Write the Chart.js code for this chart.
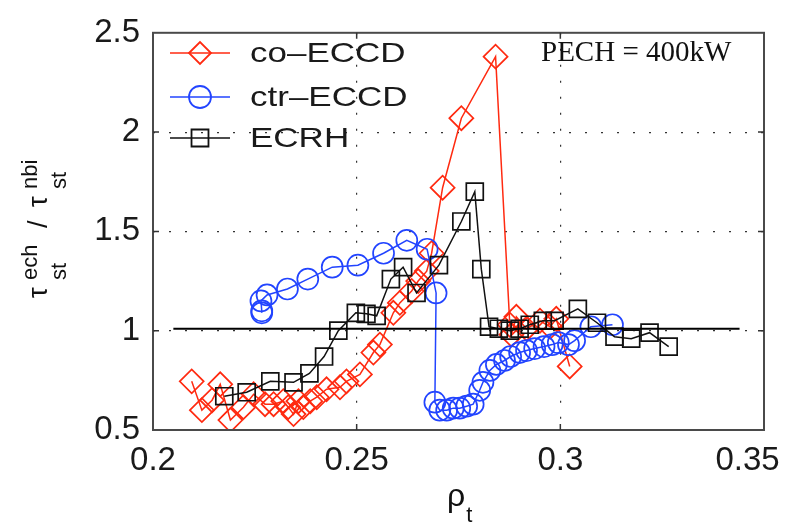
<!DOCTYPE html>
<html>
<head>
<meta charset="utf-8">
<title>tau_st ratio vs rho_t</title>
<script src="https://cdn.jsdelivr.net/npm/chart.js@4.4.0/dist/chart.umd.min.js"></script>
<style>
    html, body { margin: 0; padding: 0; background: #fff; }
    #wrap { position: relative; width: 789px; height: 528px; }
</style>
</head>
<body>
<div id="wrap"><canvas id="grafico"></canvas></div>
<script>
// co-ECCD
const coRho = [0.2095, 0.2120, 0.2145, 0.2165, 0.2190, 0.2222, 0.2247, 0.2275, 0.2296, 0.2320,
               0.2332, 0.2345, 0.2357, 0.2369, 0.2386, 0.2402, 0.2426, 0.2459, 0.2475, 0.2508,
               0.2541, 0.2557, 0.2590, 0.2606, 0.2635, 0.2651, 0.2672, 0.2684, 0.2711, 0.2757,
               0.2841, 0.2876, 0.2880, 0.2892, 0.2917, 0.2950, 0.2975, 0.2990, 0.3023];
const coTau = [0.745, 0.60, 0.65, 0.73, 0.55, 0.615, 0.68, 0.63, 0.63, 0.645,
               0.615, 0.58, 0.645, 0.615, 0.645, 0.665, 0.705, 0.715, 0.745, 0.78,
               0.89, 0.93, 1.09, 1.14, 1.20, 1.25, 1.30, 1.39, 1.72, 2.07,
               2.38, 1.03, 0.98, 1.07, 1.01, 1.05, 1.02, 1.06, 0.82];

// ctr-ECCD
const ctrRho = [0.2267, 0.2267, 0.2265, 0.2280, 0.2330, 0.2380, 0.2440, 0.2503, 0.2566, 0.2623,
                0.2673, 0.2695, 0.2692, 0.2704, 0.2721, 0.2737, 0.2753, 0.2770, 0.2786, 0.2802,
                0.2810, 0.2827, 0.2843, 0.2863, 0.2878, 0.2900, 0.2917, 0.2937, 0.2960, 0.2980,
                0.2995, 0.3020, 0.3035, 0.3075, 0.3128];
const ctrTau = [1.09, 1.10, 1.15, 1.18, 1.21, 1.26, 1.32, 1.33, 1.39, 1.455,
                1.41, 1.19, 0.64, 0.60, 0.60, 0.61, 0.61, 0.62, 0.63, 0.70,
                0.74, 0.80, 0.83, 0.85, 0.87, 0.89, 0.90, 0.91, 0.92, 0.93,
                0.94, 0.93, 0.95, 1.02, 1.03];

// ECRH
const ecrhRho = [0.2175, 0.2230, 0.2288, 0.2345, 0.2384, 0.2420, 0.2455, 0.2498, 0.2524, 0.2549,
                 0.2584, 0.2614, 0.2647, 0.2702, 0.2757, 0.2790, 0.2806, 0.2825, 0.2849, 0.2876,
                 0.2900, 0.2925, 0.2957, 0.2986, 0.3043, 0.3090, 0.3133, 0.3174, 0.3219, 0.3266];
const ecrhTau = [0.67, 0.69, 0.745, 0.74, 0.785, 0.87, 1.0, 1.09, 1.085, 1.075,
                 1.26, 1.32, 1.19, 1.33, 1.55, 1.70, 1.31, 1.02, 1.01, 1.0,
                 1.01, 1.03, 1.05, 1.05, 1.11, 1.04, 0.97, 0.96, 0.99, 0.92];

// linha de referência (razão = 1)
const refRho = [0.205, 0.344];
const refTau = [1.01, 1.01];

// ticks dos eixos
const xTicks = [0.2, 0.25, 0.3, 0.35];
const yTicks = [0.5, 1, 1.5, 2, 2.5];

const series = [
    { nome: 'co\u2013ECCD', cor: '#ff2a10', estilo: 'rectRot', raio: 12, ordem: 2 },
    { nome: 'ctr\u2013ECCD', cor: '#2244ff', estilo: 'circle', raio: 10.5, ordem: 1 },
    { nome: 'ECRH', cor: '#111111', estilo: 'rect', raio: 12, ordem: 0 }
];

const fonteSans = '"Liberation Sans", Arial, Helvetica, sans-serif';
const fonteSerif = '"Liberation Serif", "Times New Roman", serif';

function pontos(xs, ys) {
    return xs.map((x, i) => ({ x: x, y: ys[i] }));
}

// desenha um marcador vazado (usado na legenda)
function marcador(ctx, estilo, x, y, r) {
    ctx.beginPath();
    if (estilo === 'circle') {
        ctx.arc(x, y, r, 0, Math.PI * 2);
    } else if (estilo === 'rectRot') {
        ctx.moveTo(x - r, y); ctx.lineTo(x, y - r); ctx.lineTo(x + r, y); ctx.lineTo(x, y + r);
        ctx.closePath();
    } else {
        const s = r * Math.SQRT1_2;
        ctx.rect(x - s, y - s, 2 * s, 2 * s);
    }
    ctx.stroke();
}

// moldura, ticks internos, legenda, títulos dos eixos e anotação
const extras = {
    id: 'extras',
    afterDraw(chart) {
        const ctx = chart.ctx;
        const a = chart.chartArea;
        const sx = chart.scales.x, sy = chart.scales.y;
        ctx.save();

        // moldura
        ctx.strokeStyle = '#4a4a4a';
        ctx.lineWidth = 2;
        ctx.strokeRect(a.left, a.top, a.right - a.left, a.bottom - a.top);

        // ticks para dentro
        ctx.lineWidth = 1.5;
        ctx.strokeStyle = '#333';
        ctx.beginPath();
        [0.25, 0.3].forEach(v => {
            const px = sx.getPixelForValue(v);
            ctx.moveTo(px, a.bottom); ctx.lineTo(px, a.bottom - 6);
            ctx.moveTo(px, a.top); ctx.lineTo(px, a.top + 6);
        });
        [1, 1.5, 2].forEach(v => {
            const py = sy.getPixelForValue(v);
            ctx.moveTo(a.left, py); ctx.lineTo(a.left + 6, py);
            ctx.moveTo(a.right, py); ctx.lineTo(a.right - 6, py);
        });
        ctx.stroke();

        // legenda
        const legX = 170, legTexto = 250;
        const legY = [53, 97, 138];
        series.forEach((s, i) => {
            const y = legY[i];
            ctx.strokeStyle = s.cor;
            ctx.lineWidth = 1.5;
            ctx.beginPath();
            ctx.moveTo(legX, y); ctx.lineTo(legX + 60, y);
            ctx.stroke();
            ctx.lineWidth = 1.8;
            marcador(ctx, s.estilo, legX + 30, y, s.estilo === 'rect' ? 12 : 11);
            ctx.save();
            ctx.translate(legTexto, y + 1);
            ctx.scale(1.25, 1);
            ctx.fillStyle = '#1a1a1a';
            ctx.font = '28px ' + fonteSans;
            ctx.textAlign = 'left';
            ctx.textBaseline = 'middle';
            ctx.fillText(s.nome, 0, 0);
            ctx.restore();
        });

        // anotação de potência
        ctx.fillStyle = '#111';
        ctx.font = '29px ' + fonteSerif;
        ctx.textAlign = 'left';
        ctx.textBaseline = 'alphabetic';
        ctx.fillText('PECH = 400kW', 541, 61);

        // título do eixo x: rho_t
        ctx.font = '32px ' + fonteSans;
        ctx.fillText('\u03C1', 447, 506);
        const wRho = ctx.measureText('\u03C1').width;
        ctx.font = '22px ' + fonteSans;
        ctx.fillText('t', 447 + wRho + 1, 522);

        // título do eixo y: tau_st^ech / tau_st^nbi
        ctx.translate(47, 300);
        ctx.rotate(-Math.PI / 2);
        const blocoTau = (u, sup) => {
            ctx.font = '27px ' + fonteSans;
            ctx.fillText('\u03C4', u + 2, 0);
            ctx.font = '22px ' + fonteSans;
            ctx.fillText('st', u + 20, 19);
            ctx.fillText(sup, u + 20, -10);
        };
        blocoTau(0, 'ech');
        ctx.font = '27px ' + fonteSans;
        ctx.fillText('/', 72, 0);
        blocoTau(91, 'nbi');

        ctx.restore();
    }
};

const datasets = series.map((s, i) => ({
    label: s.nome,
    data: pontos([coRho, ctrRho, ecrhRho][i], [coTau, ctrTau, ecrhTau][i]),
    showLine: true,
    borderColor: s.cor,
    borderWidth: 1.5,
    tension: 0,
    pointStyle: s.estilo,
    pointRadius: s.raio,
    pointBorderWidth: 1.7,
    pointBorderColor: s.cor,
    pointBackgroundColor: 'rgba(0,0,0,0)',
    order: s.ordem
}));

datasets.push({
    label: 'ref',
    data: pontos(refRho, refTau),
    showLine: true,
    borderColor: '#000',
    borderWidth: 2,
    pointRadius: 0,
    order: -1
});

new Chart(document.getElementById('grafico'), {
    type: 'scatter',
    data: { datasets: datasets },
    options: {
        responsive: true,
        maintainAspectRatio: false,
        animation: false,
        devicePixelRatio: 1,
        layout: { padding: { top: 23, right: 25, left: 0, bottom: 0 } },
        plugins: {
            legend: { display: false },
            tooltip: { enabled: false }
        },
        scales: {
            x: {
                type: 'linear',
                min: 0.2,
                max: 0.35,
                afterBuildTicks: s => { s.ticks = xTicks.map(v => ({ value: v })); },
                afterFit: s => { s.height = 98; s.paddingLeft = 0; s.paddingRight = 0; },
                ticks: {
                    font: { family: fonteSans, size: 33 },
                    color: '#1a1a1a',
                    padding: 11,
                    maxRotation: 0,
                    autoSkip: false,
                    // o último rótulo fica recuado para caber na figura
                    callback: v => v === 0.35 ? '0.35\u2002\u2002' : String(v)
                },
                grid: {
                    color: c => (c.index > 0 && c.index < xTicks.length - 1) ? '#333' : 'rgba(0,0,0,0)',
                    lineWidth: 1.2,
                    drawTicks: false
                },
                border: { display: false, dash: [2, 14] }
            },
            y: {
                type: 'linear',
                min: 0.5,
                max: 2.5,
                afterBuildTicks: s => { s.ticks = yTicks.map(v => ({ value: v })); },
                afterFit: s => { s.width = 153; },
                ticks: {
                    font: { family: fonteSans, size: 33 },
                    color: '#1a1a1a',
                    padding: 13,
                    autoSkip: false,
                    callback: v => String(v)
                },
                grid: {
                    color: c => (c.index > 0 && c.index < yTicks.length - 1) ? '#333' : 'rgba(0,0,0,0)',
                    lineWidth: 1.2,
                    drawTicks: false
                },
                border: { display: false, dash: [2, 14] }
            }
        }
    },
    plugins: [extras]
});
</script>
</body>
</html>
